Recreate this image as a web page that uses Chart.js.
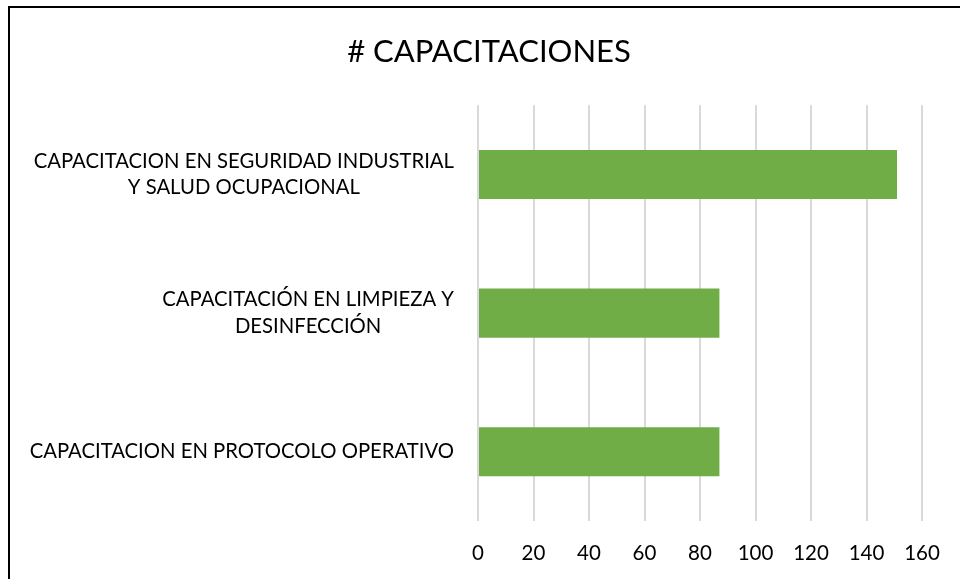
<!DOCTYPE html>
<html>
<head>
<meta charset="utf-8">
<script src="https://cdn.jsdelivr.net/npm/chart.js@4.4.1/dist/chart.umd.min.js"></script>
<style>
    html, body { margin: 0; padding: 0; background: #fff; overflow: hidden; }
    #frame {
        position: absolute; left: 8px; top: 6px;
        width: 970px; height: 600px;
        border-left: 2px solid #000; border-top: 2px solid #000;
    }
    #wrap { position: absolute; left: 0; top: 0; width: 978px; height: 579px; }
</style>
</head>
<body>
<div id="frame"></div>
<div id="wrap"><canvas id="chart"></canvas></div>
<script>
const categories = [
    ['CAPACITACION EN SEGURIDAD INDUSTRIAL', 'Y SALUD OCUPACIONAL'],
    ['CAPACITACIÓN EN LIMPIEZA Y', 'DESINFECCIÓN'],
    ['CAPACITACION EN PROTOCOLO OPERATIVO']
];
const values = [151, 87, 87];
const xTicks = [0, 20, 40, 60, 80, 100, 120, 140, 160];

const FONT = 'Lato, "Open Sans", sans-serif';

// y labels: right-aligned block, lines centred inside it (like Excel)
const blockLabels = {
    id: 'blockLabels',
    afterDraw (chart) {
        const ctx = chart.ctx;
        const yScale = chart.scales.y;
        const right = 454;
        const lineGap = 26.5;
        ctx.save();
        ctx.font = '20.3px ' + FONT;
        ctx.fillStyle = '#000';
        ctx.textAlign = 'center';
        ctx.textBaseline = 'middle';
        categories.forEach((lines, i) => {
            const cy = yScale.getPixelForValue(i);
            const w = Math.max(...lines.map(l => ctx.measureText(l).width));
            const cx = right - w / 2;
            lines.forEach((l, j) => {
                ctx.fillText(l, cx, cy + (j - (lines.length - 1) / 2) * lineGap);
            });
        });
        ctx.restore();
    }
};

new Chart(document.getElementById('chart'), {
    type: 'bar',
    data: {
        labels: categories,
        datasets: [{
            data: values,
            backgroundColor: '#70ad47',
            categoryPercentage: 1,
            barPercentage: 0.354
        }]
    },
    options: {
        indexAxis: 'y',
        responsive: true,
        maintainAspectRatio: false,
        animation: false,
        layout: { padding: { left: 56, right: 56, top: 0, bottom: 0 } },
        plugins: {
            legend: { display: false },
            tooltip: { enabled: false },
            title: {
                display: true,
                text: '# CAPACITACIONES',
                color: '#000',
                font: { family: FONT, size: 31, weight: 'normal' },
                padding: { top: 33, bottom: 35 }
            }
        },
        scales: {
            x: {
                min: 0,
                max: 160,
                afterBuildTicks (scale) {
                    scale.ticks = xTicks.map(v => ({ value: v }));
                },
                afterFit (scale) { scale.height = 58; },
                grid: { color: '#d9d9d9', lineWidth: 2, drawTicks: false },
                border: { display: false },
                ticks: {
                    color: '#000',
                    padding: 20,
                    font: { family: FONT, size: 20.5 }
                }
            },
            y: {
                afterFit (scale) { scale.width = 422; },
                grid: { display: false },
                border: { display: false },
                ticks: { display: false }
            }
        }
    },
    plugins: [blockLabels]
});
</script>
</body>
</html>
